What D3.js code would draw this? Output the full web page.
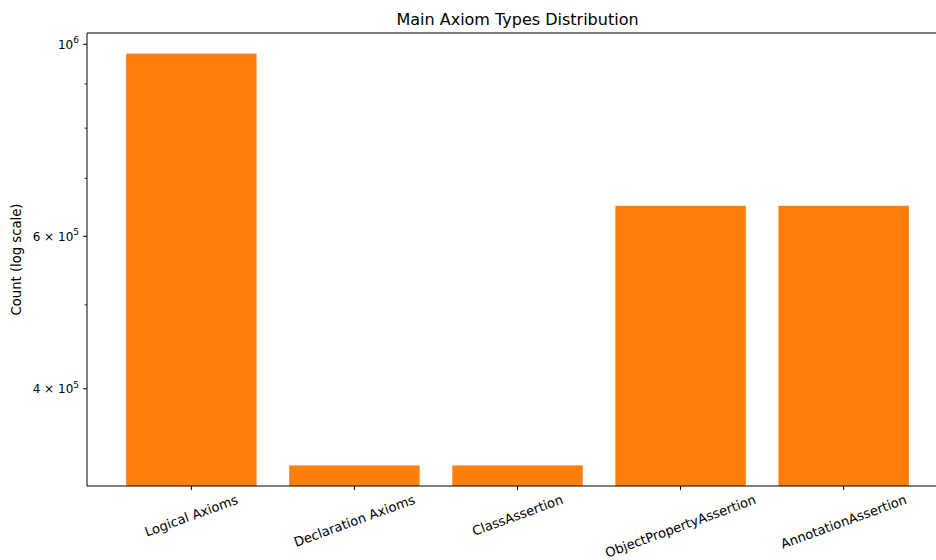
<!DOCTYPE html>
<html>
<head>
<meta charset="utf-8">
<script src="https://cdn.jsdelivr.net/npm/d3@7"></script>
<style>
  html, body { margin: 0; padding: 0; background: #fff; }
  svg { display: block; font-family: "DejaVu Sans", sans-serif; }
</style>
</head>
<body>
<svg id="chart" width="936" height="560"></svg>
<script>
// Axiom counts by type
const categories = ["Logical Axioms", "Declaration Axioms", "ClassAssertion", "ObjectPropertyAssertion", "AnnotationAssertion"];
const counts = [975500, 326200, 326200, 650800, 650800];
// Labelled major ticks on the log axis: [mantissa, exponent]
const majorTicks = [[1, 6], [6, 5], [4, 5]];
const minorTicks = [500000, 700000, 800000, 900000];

const svg = d3.select("#chart");
const plot = { left: 87, top: 33, right: 948, bottom: 486 };

// Category positions: bars of width 0.8 with a 5% margin on each side
const xLin = d3.scaleLinear()
  .domain([-0.64, categories.length - 1 + 0.64])
  .range([plot.left, plot.right]);
const barW = xLin(0.8) - xLin(0);

// Log y-domain padded by 5% of the data range in log space
const lo = Math.log10(d3.min(counts)), hi = Math.log10(d3.max(counts));
const pad = (hi - lo) * 0.05;
const y = d3.scaleLog()
  .domain([Math.pow(10, lo - pad), Math.pow(10, hi + pad)])
  .range([plot.bottom, plot.top]);

// Bars (log bars start from the bottom of the visible range)
svg.append("g").selectAll("rect")
  .data(categories)
  .join("rect")
  .attr("x", (d, i) => xLin(i) - barW / 2)
  .attr("width", barW)
  .attr("y", (d, i) => y(counts[i]))
  .attr("height", (d, i) => plot.bottom - y(counts[i]))
  .attr("fill", "#ff7f0e");

// Spines
const spine = svg.append("g").attr("stroke", "#000").attr("stroke-width", 1).attr("fill", "none");
spine.append("line").attr("x1", plot.left).attr("x2", plot.right).attr("y1", plot.top).attr("y2", plot.top);
spine.append("line").attr("x1", plot.left).attr("x2", plot.right).attr("y1", plot.bottom).attr("y2", plot.bottom);
spine.append("line").attr("x1", plot.left).attr("x2", plot.left).attr("y1", plot.top).attr("y2", plot.bottom);
spine.append("line").attr("x1", plot.right).attr("x2", plot.right).attr("y1", plot.top).attr("y2", plot.bottom);

// Y axis: major ticks with scientific labels, minor ticks unlabeled
const yAxis = svg.append("g");
majorTicks.forEach(([m, e]) => {
  const v = m * Math.pow(10, e);
  const yy = y(v);
  yAxis.append("line").attr("x1", plot.left - 4).attr("x2", plot.left)
    .attr("y1", yy).attr("y2", yy).attr("stroke", "#000").attr("stroke-width", 1);
  const t = yAxis.append("text")
    .attr("x", plot.left - 8).attr("y", yy + 4.5)
    .attr("text-anchor", "end").attr("font-size", 12).attr("fill", "#000");
  t.append("tspan").text(m === 1 ? "10" : m + " \u00d7 10");
  t.append("tspan").attr("dy", -5.5).attr("font-size", 9).text(e);
});
minorTicks.forEach(v => {
  const yy = y(v);
  yAxis.append("line").attr("x1", plot.left - 2.5).attr("x2", plot.left)
    .attr("y1", yy).attr("y2", yy).attr("stroke", "#000").attr("stroke-width", 0.8);
});

// X axis ticks and rotated labels
const xAxis = svg.append("g");
categories.forEach((c, i) => {
  const xx = xLin(i);
  xAxis.append("line").attr("x1", xx).attr("x2", xx)
    .attr("y1", plot.bottom).attr("y2", plot.bottom + 4)
    .attr("stroke", "#000").attr("stroke-width", 1);
  const t = xAxis.append("text")
    .attr("text-anchor", "middle").attr("dominant-baseline", "central")
    .attr("font-size", 13.1).attr("fill", "#000").text(c);
  const bb = t.node().getBBox();
  const a = 20 * Math.PI / 180;
  const H = bb.width * Math.sin(a) + bb.height * Math.cos(a);
  t.attr("transform", `translate(${xx},${plot.bottom + 6 + H / 2}) rotate(-20)`);
});

// Axis label and title
svg.append("text")
  .attr("transform", `translate(21,${(plot.top + plot.bottom) / 2}) rotate(-90)`)
  .attr("text-anchor", "middle").attr("font-size", 13.2).attr("fill", "#000")
  .text("Count (log scale)");

svg.append("text")
  .attr("x", (plot.left + plot.right) / 2).attr("y", 25)
  .attr("text-anchor", "middle").attr("font-size", 16).attr("fill", "#000")
  .text("Main Axiom Types Distribution");
</script>
</body>
</html>
